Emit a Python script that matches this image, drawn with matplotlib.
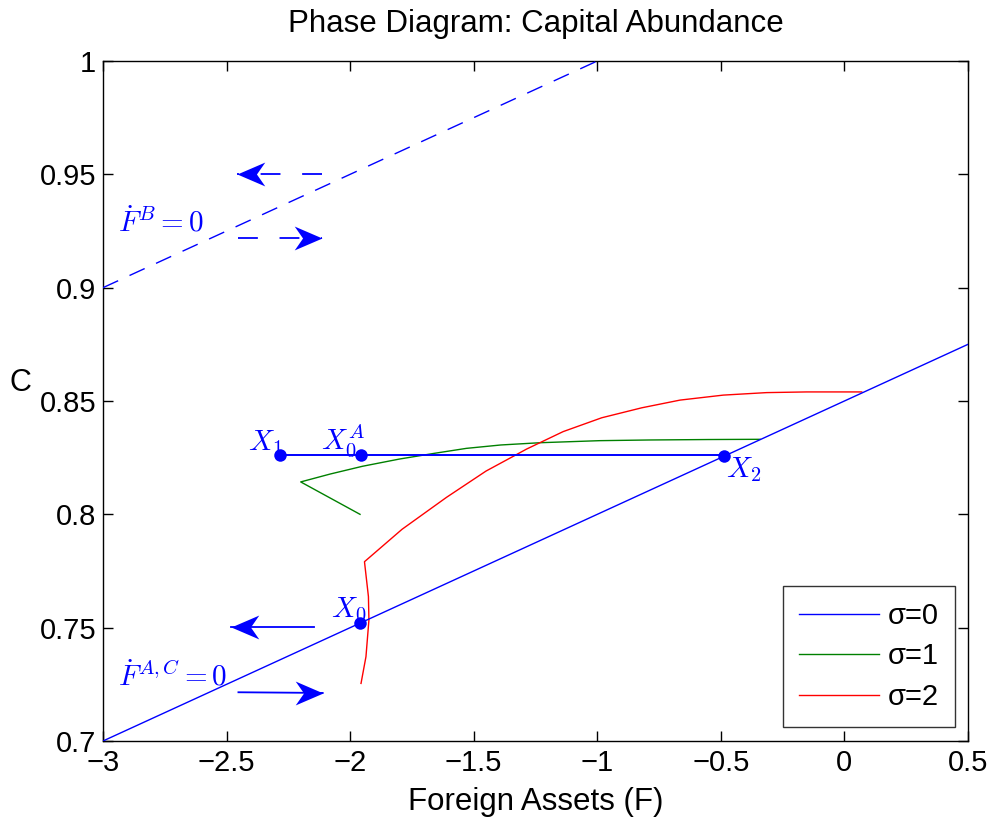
import matplotlib
matplotlib.use("Agg")
import matplotlib.pyplot as plt
from matplotlib.path import Path
import numpy as np

plt.rcParams['font.family'] = ['Liberation Sans', 'DejaVu Sans']
plt.rcParams['mathtext.fontset'] = 'cm'

# ---------------- data ----------------
# F_dot^{A,C} = 0 locus (solid blue line)
fac_x = [-3.0, 0.5]
fac_y = [0.700, 0.875]
# F_dot^{B} = 0 locus (dashed blue line)
fb_x = [-3.0, -1.0]
fb_y = [0.900, 1.000]
# horizontal path X1 -> X2 (sigma = 0)
path_x = [-2.284, -0.487]
path_y = [0.826, 0.826]
# marked points
pt_names = ['$X_1$', '$X_0^A$', '$X_2$', '$X_0$']
pt_x = [-2.284, -1.956, -0.487, -1.960]
pt_y = [0.826, 0.826, 0.8257, 0.752]
lab_x = [-2.413, -2.118, -0.479, -2.077]
lab_y = [0.8284, 0.8284, 0.8165, 0.7547]
# sigma = 1 path
s1_x = [-1.96, -2.20, -2.08, -1.95, -1.80, -1.66, -1.53, -1.39, -1.23, -0.99, -0.79, -0.55, -0.341]
s1_y = [0.800, 0.8143, 0.8178, 0.8212, 0.8244, 0.8269, 0.8291, 0.8306, 0.8316, 0.8325, 0.8328, 0.8330, 0.8331]
# sigma = 2 path
s2_x = [-1.956, -1.936, -1.924, -1.926, -1.942, -1.79, -1.61, -1.45, -1.333, -1.286,
        -1.138, -0.982, -0.82, -0.665, -0.49, -0.315, -0.153, 0.07]
s2_y = [0.7254, 0.7372, 0.7534, 0.7637, 0.7791, 0.7934, 0.8075, 0.8191, 0.8260, 0.8288,
        0.8365, 0.8426, 0.8470, 0.8504, 0.8526, 0.8537, 0.8540, 0.8540]
# direction arrows
arr_tail_x = [-2.114, -2.452, -2.146, -2.452]
arr_tail_y = [0.9501, 0.9218, 0.7504, 0.7215]
arr_tip_x = [-2.459, -2.115, -2.482, -2.111]
arr_tip_y = [0.9501, 0.9218, 0.7504, 0.7212]
arr_dashed = [True, True, False, False]
# locus labels
locus_text = [r'$\dot{F}^{B}=0$', r'$\dot{F}^{A,C}=0$']
locus_x = [-2.94, -2.938]
locus_y = [0.9247, 0.7247]

x_ticks = [-3, -2.5, -2, -1.5, -1, -0.5, 0, 0.5]
x_ticklabels = ['\u22123', '\u22122.5', '\u22122', '\u22121.5', '\u22121', '\u22120.5', '0', '0.5']
y_ticks = [0.7, 0.75, 0.8, 0.85, 0.9, 0.95, 1.0]
y_ticklabels = ['0.7', '0.75', '0.8', '0.85', '0.9', '0.95', '1']
legend_labels = ['\u03c3=0', '\u03c3=1', '\u03c3=2']

BLUE = (0, 0, 1)
GREEN = (0, 0.5, 0)
RED = (1, 0, 0)

fig = plt.figure(figsize=(9.94, 8.23), dpi=100)
ax = fig.add_axes([0.10362, 0.09964, 0.87022, 0.82624])

l0, = ax.plot(fac_x, fac_y, color=BLUE, lw=1.0, zorder=3)
ax.plot(fb_x, fb_y, color=BLUE, lw=1.0, dashes=(12, 9), zorder=3)
ax.plot(path_x, path_y, color=BLUE, lw=1.4, zorder=3)
l1, = ax.plot(s1_x, s1_y, color=GREEN, lw=1.0, zorder=2)
l2, = ax.plot(s2_x, s2_y, color=RED, lw=1.0, zorder=2)
ax.plot(pt_x, pt_y, 'o', color=BLUE, ms=9, mew=0, zorder=4)

for name, x, y in zip(pt_names, lab_x, lab_y):
    ax.text(x, y, name, color=BLUE, fontsize=21, ha='left', va='baseline', zorder=5)
for t, x, y in zip(locus_text, locus_x, locus_y):
    ax.text(x, y, t, color=BLUE, fontsize=21, ha='left', va='baseline', zorder=5)

# stealth arrow heads
codes = [Path.MOVETO, Path.LINETO, Path.LINETO, Path.LINETO, Path.CLOSEPOLY]
head_r = Path([(0, 0), (-1, 0.43), (-0.7, 0), (-1, -0.43), (0, 0)], codes)
head_l = Path([(0, 0), (1, 0.43), (0.7, 0), (1, -0.43), (0, 0)], codes)
for tx, ty, hx, hy, d in zip(arr_tail_x, arr_tail_y, arr_tip_x, arr_tip_y, arr_dashed):
    if d:
        ax.plot([tx, hx], [ty, hy], color=BLUE, lw=1.3, dashes=(11, 12), zorder=3)
    else:
        ax.plot([tx, hx], [ty, hy], color=BLUE, lw=1.3, zorder=3)
    ax.plot([hx], [hy], marker=head_r if hx > tx else head_l, ms=40,
            color=BLUE, mew=0, zorder=4)

ax.set_xlim(-3, 0.5)
ax.set_ylim(0.7, 1.0)
ax.set_xticks(x_ticks)
ax.set_xticklabels(x_ticklabels)
ax.set_yticks(y_ticks)
ax.set_yticklabels(y_ticklabels)
ax.tick_params(direction='in', top=True, right=True, length=7, width=1.0,
               labelsize=21, colors='black')
ax.tick_params(axis='x', pad=6)
ax.tick_params(axis='y', pad=5)
for s in ax.spines.values():
    s.set_linewidth(1.0)

ax.set_title('Phase Diagram: Capital Abundance', fontsize=22.5, pad=21)
ax.set_xlabel('Foreign Assets (F)', fontsize=22.5)
ax.xaxis.set_label_coords(0.5, -0.068)
ax.set_ylabel('C', fontsize=22, rotation=0, ha='center', va='center')
ax.yaxis.set_label_coords(-0.095, 0.526)

leg = ax.legend([l0, l1, l2], legend_labels, loc='lower right',
                bbox_to_anchor=(0.985, 0.0206), fontsize=21, frameon=True,
                fancybox=False, edgecolor='black', handlelength=2.75,
                handletextpad=0.3, labelspacing=0.43, borderpad=0.55,
                borderaxespad=0)
leg.get_frame().set_linewidth(1.0)

fig.savefig('out.png', dpi=100)
